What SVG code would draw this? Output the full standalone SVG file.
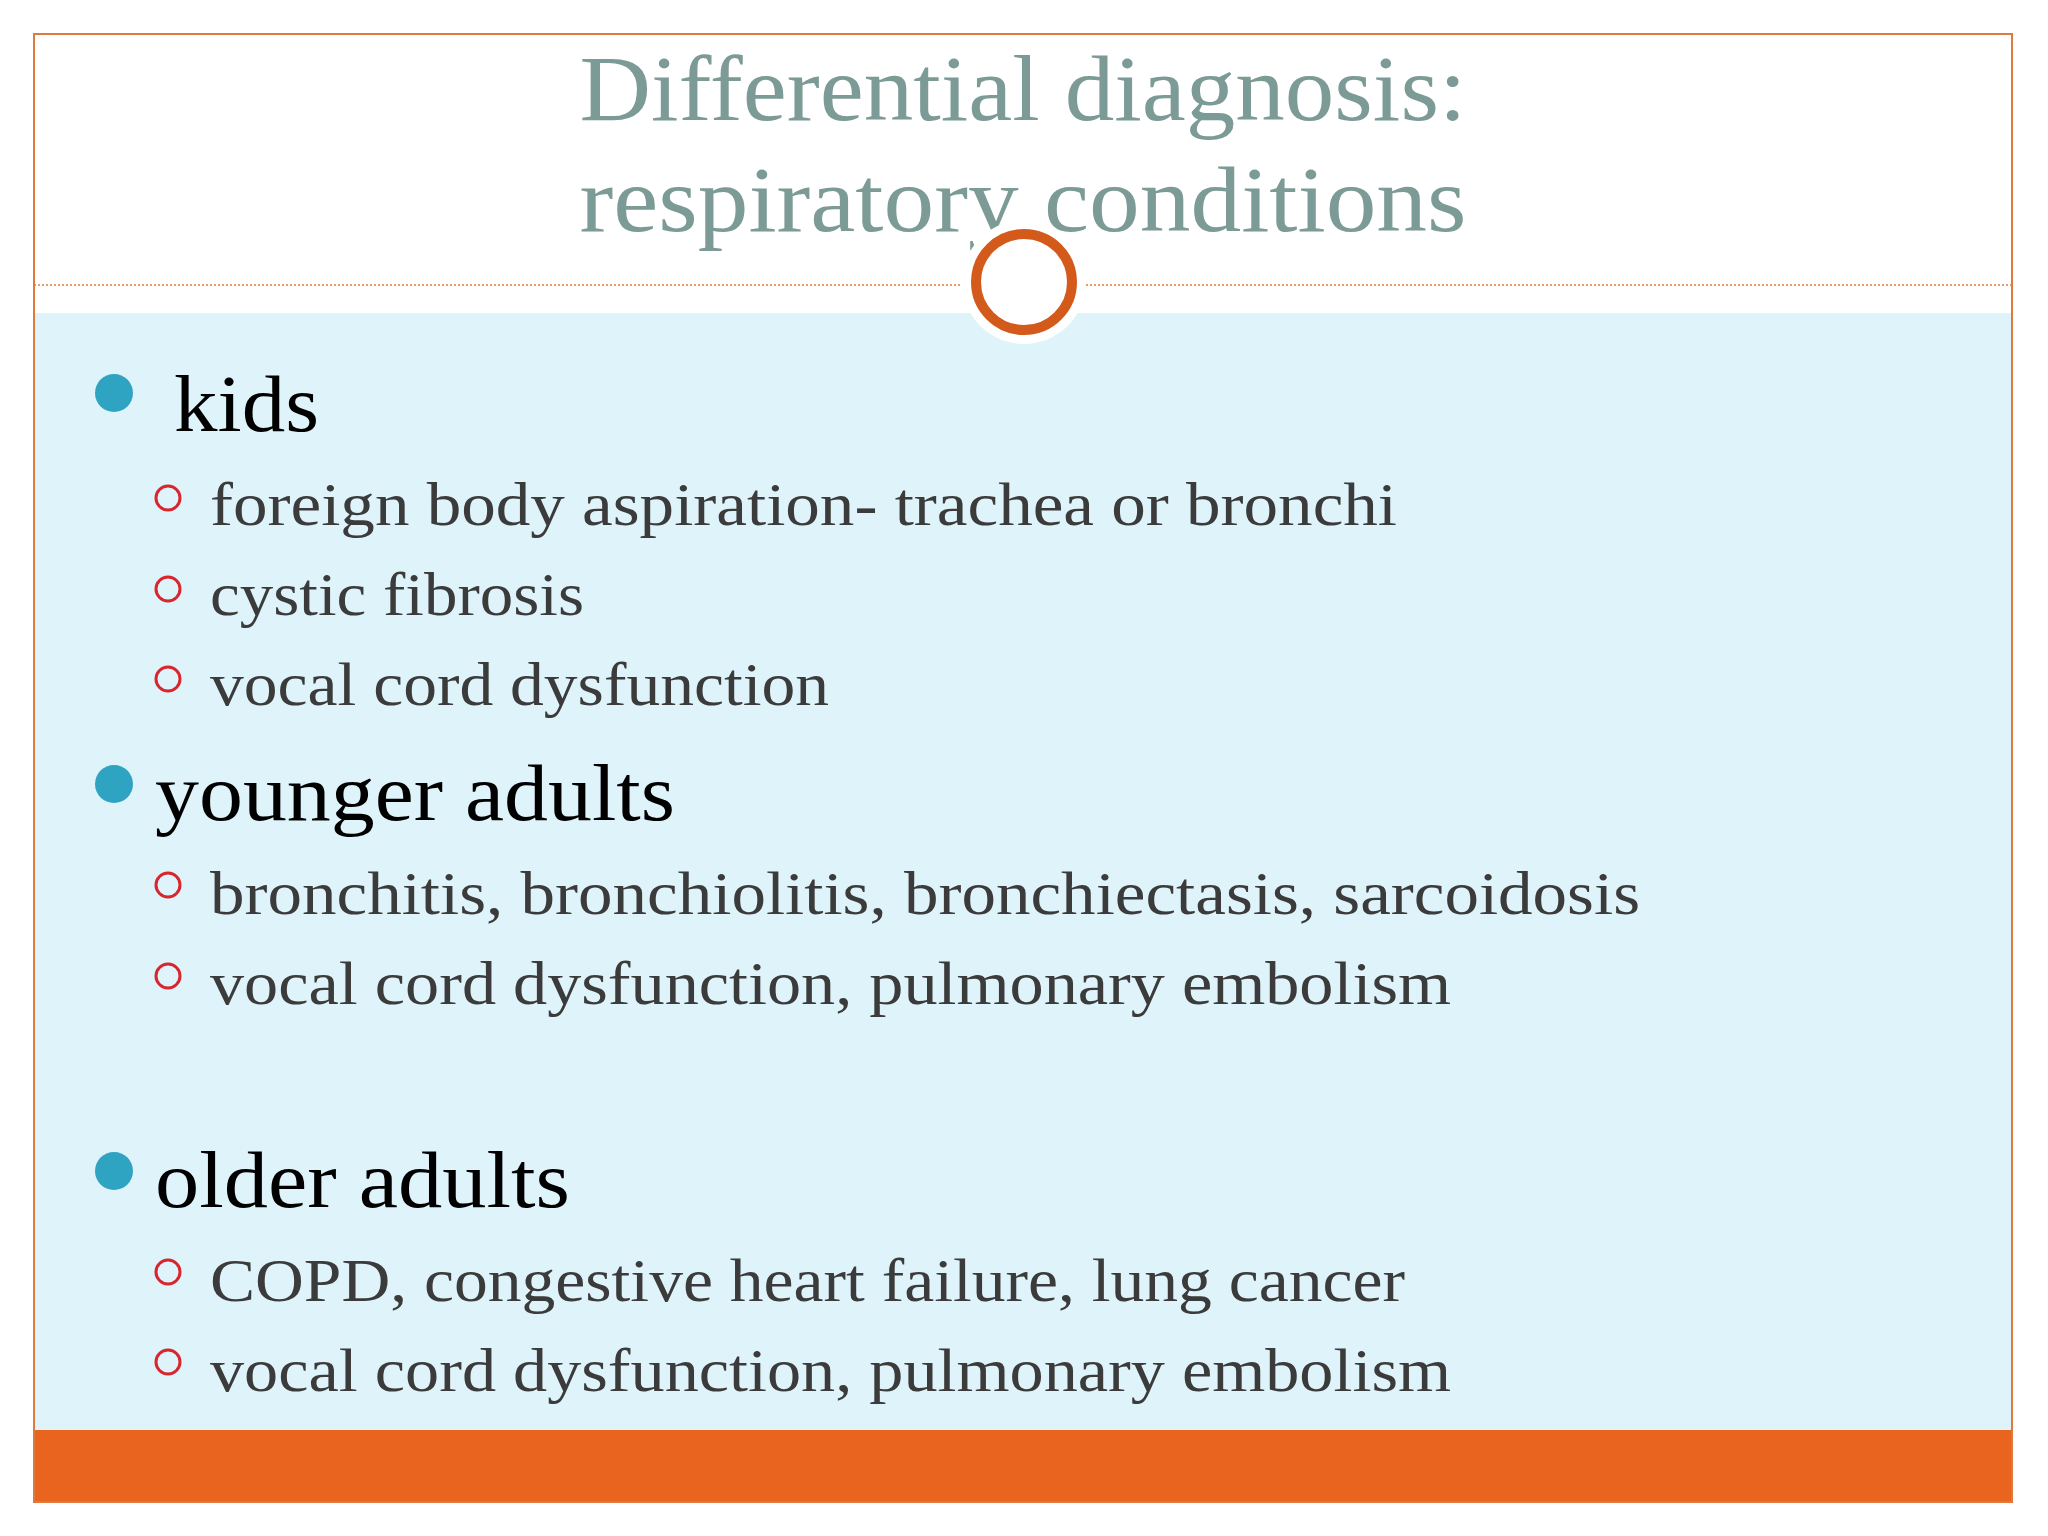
<svg xmlns="http://www.w3.org/2000/svg" width="2048" height="1536" viewBox="0 0 2048 1536">
<style>
.t{font-family:"Liberation Serif",serif;font-size:94px;fill:#7d9b96;text-anchor:middle}
.h{font-family:"Liberation Serif",serif;font-size:80px;fill:#000}
.s{font-family:"Liberation Serif",serif;font-size:62px;fill:#3b3b3b}
.d{fill:#2fa3c2}
.r{fill:none;stroke:#d8262e;stroke-width:3}
</style>
<rect width="2048" height="1536" fill="#fff"/>
<rect x="34" y="313" width="1978" height="1118" fill="#dff3fa"/>
<rect x="34" y="1430" width="1978" height="72" fill="#e8641f"/>
<rect x="34" y="34" width="1978" height="1468" fill="none" stroke="#e07a3c" stroke-width="2"/>
<line x1="34" y1="285" x2="2012" y2="285" stroke="#e07a3c" stroke-width="1.5" stroke-dasharray="2 2"/>
<g id="title"><text class="t" x="1023" y="120" textLength="887" lengthAdjust="spacingAndGlyphs">Differential diagnosis:</text><text class="t" x="1023" y="231" textLength="887" lengthAdjust="spacingAndGlyphs">respiratory conditions</text></g>
<circle cx="1024" cy="282" r="62" fill="#fff"/>
<circle cx="1024" cy="282" r="48" fill="#fff" stroke="#d45a1c" stroke-width="10"/>
<g id="kids"><circle class="d" cx="114" cy="393" r="19"/><text class="h" x="174" y="431" textLength="145" lengthAdjust="spacingAndGlyphs">kids</text>
<circle class="r" cx="168" cy="498" r="12"/><text class="s" x="210" y="525" textLength="1187" lengthAdjust="spacingAndGlyphs">foreign body aspiration- trachea or bronchi</text>
<circle class="r" cx="168" cy="589" r="12"/><text class="s" x="210" y="615" textLength="374" lengthAdjust="spacingAndGlyphs">cystic fibrosis</text>
<circle class="r" cx="168" cy="679" r="12"/><text class="s" x="210" y="705" textLength="619" lengthAdjust="spacingAndGlyphs">vocal cord dysfunction</text></g>
<g id="younger"><circle class="d" cx="114" cy="784" r="19"/><text class="h" x="155" y="820" textLength="520" lengthAdjust="spacingAndGlyphs">younger adults</text>
<circle class="r" cx="168" cy="885" r="12"/><text class="s" x="210" y="914" textLength="1430" lengthAdjust="spacingAndGlyphs">bronchitis, bronchiolitis, bronchiectasis, sarcoidosis</text>
<circle class="r" cx="168" cy="976" r="12"/><text class="s" x="210" y="1004" textLength="1241" lengthAdjust="spacingAndGlyphs">vocal cord dysfunction, pulmonary embolism</text></g>
<g id="older"><circle class="d" cx="114" cy="1171" r="19"/><text class="h" x="155" y="1207" textLength="415" lengthAdjust="spacingAndGlyphs">older adults</text>
<circle class="r" cx="168" cy="1272" r="12"/><text class="s" x="210" y="1301" textLength="1195" lengthAdjust="spacingAndGlyphs">COPD, congestive heart failure, lung cancer</text>
<circle class="r" cx="168" cy="1362" r="12"/><text class="s" x="210" y="1391" textLength="1241" lengthAdjust="spacingAndGlyphs">vocal cord dysfunction, pulmonary embolism</text></g>
<g id="connectors"/>
</svg>
